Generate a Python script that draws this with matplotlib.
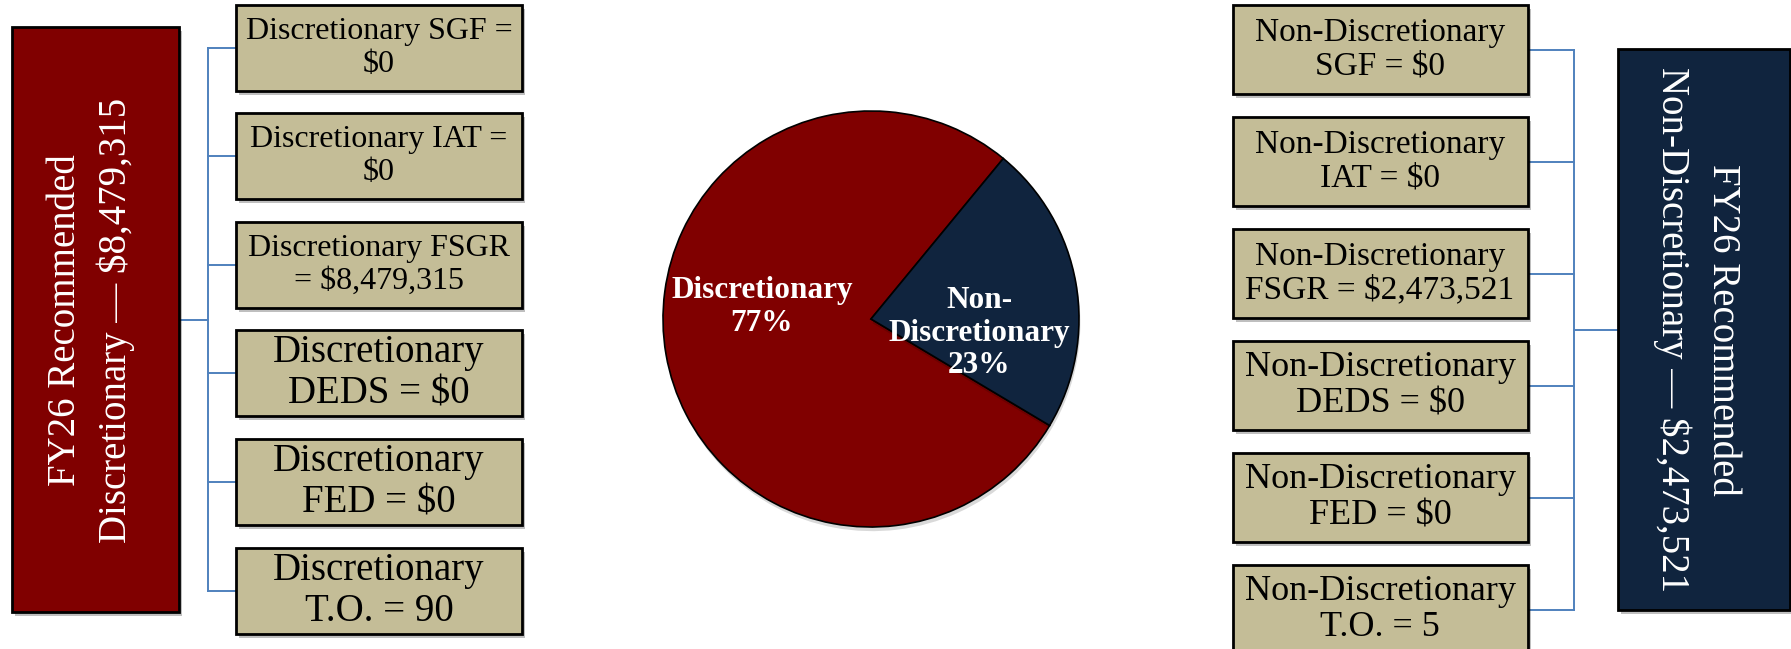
import matplotlib.pyplot as plt
from matplotlib.patches import Rectangle
import matplotlib.patheffects as pe

# --- data ---
disc_items = ['Discretionary SGF =\n$0', 'Discretionary IAT =\n$0',
              'Discretionary FSGR\n= $8,479,315', 'Discretionary\nDEDS = $0',
              'Discretionary\nFED = $0', 'Discretionary\nT.O. = 90']
nondisc_items = ['Non-Discretionary\nSGF = $0', 'Non-Discretionary\nIAT = $0',
                 'Non-Discretionary\nFSGR = $2,473,521', 'Non-Discretionary\nDEDS = $0',
                 'Non-Discretionary\nFED = $0', 'Non-Discretionary\nT.O. = 5']
disc_total = 8479315
nondisc_total = 2473521
pie_names = ['Discretionary', 'Non-\nDiscretionary']

# colours
maroon = '#800000'
navy = '#10243e'
tan = '#c4bd97'
link = '#4f81bd'

W, H = 1791, 649
plt.rcParams['font.family'] = ['Liberation Serif', 'DejaVu Serif']

fig = plt.figure(figsize=(W / 100, H / 100), dpi=100)
ax = fig.add_axes([0, 0, 1, 1])

shadow = [pe.withSimplePatchShadow(offset=(2, -3), shadow_rgbFace='black', alpha=0.25)]


def box(x, top, w, h, color, lw=2):
    r = Rectangle((x, H - top - h), w, h, facecolor=color, edgecolor='black',
                  linewidth=lw, path_effects=shadow, zorder=3)
    ax.add_patch(r)


def hline(x0, x1, y):
    ax.plot([x0, x1], [H - y, H - y], color=link, lw=1.4, zorder=1)


def vline(x, y0, y1):
    ax.plot([x, x], [H - y0, H - y1], color=link, lw=1.4, zorder=1)


# left side
left_tops = [5, 113, 222, 330, 439, 548]
lh = 86
vline(208, left_tops[0] + lh / 2, left_tops[-1] + lh / 2)
hline(179, 208, 320)
for i, (t, lab) in enumerate(zip(left_tops, disc_items)):
    box(236, t, 286, lh, tan)
    hline(208, 236, t + lh / 2)
    ax.text(379, H - t - lh / 2, lab, ha='center', va='center', multialignment='center',
            fontsize=23 if i < 3 else 28, linespacing=1.15, zorder=4)

box(12, 27, 167, 585, maroon)
ax.text(91, H - 320, 'FY26 Recommended\nDiscretionary — ${:,}'.format(disc_total),
        rotation=90, ha='center', va='center', multialignment='center',
        color='white', fontsize=28, linespacing=1.45, zorder=4)

# right side
right_tops = [5, 117, 229, 341, 453, 565]
rh = 89
vline(1574, right_tops[0] + rh / 2, right_tops[-1] + rh / 2)
hline(1574, 1618, 330)
for i, (t, lab) in enumerate(zip(right_tops, nondisc_items)):
    box(1233, t, 295, rh, tan)
    hline(1528, 1574, t + rh / 2)
    ax.text(1380, H - t - rh / 2, lab, ha='center', va='center', multialignment='center',
            fontsize=24 if i < 3 else 26, linespacing=1.15, zorder=4)

box(1618, 49, 172, 561, navy)
ax.text(1697, H - 330, 'FY26 Recommended\nNon-Discretionary — ${:,}'.format(nondisc_total),
        rotation=270, ha='center', va='center', multialignment='center',
        color='white', fontsize=28, linespacing=1.4, zorder=4)

# pie
vals = [disc_total, nondisc_total]
wedges, _ = ax.pie(vals, colors=[maroon, navy], startangle=50.5, center=(871, H - 319),
                   radius=208, wedgeprops=dict(edgecolor='black', linewidth=1.2),
                   frame=True)
for w in wedges:
    w.set_path_effects([pe.withSimplePatchShadow(offset=(1, -3), shadow_rgbFace='black', alpha=0.15)])
pcts = [round(100 * v / sum(vals)) for v in vals]
label_pos = [(762, 307), (979, 333)]
for name, p, (x, y) in zip(pie_names, pcts, label_pos):
    ax.text(x, H - y, '{}\n{}%'.format(name, p), ha='center', va='center',
            multialignment='center', color='white', fontsize=22.5,
            fontweight='bold', linespacing=1.15, zorder=5)

ax.set_xlim(0, W)
ax.set_ylim(0, H)
ax.set_aspect('equal')
ax.axis('off')

fig.savefig('out.png', dpi=100, facecolor='white')
